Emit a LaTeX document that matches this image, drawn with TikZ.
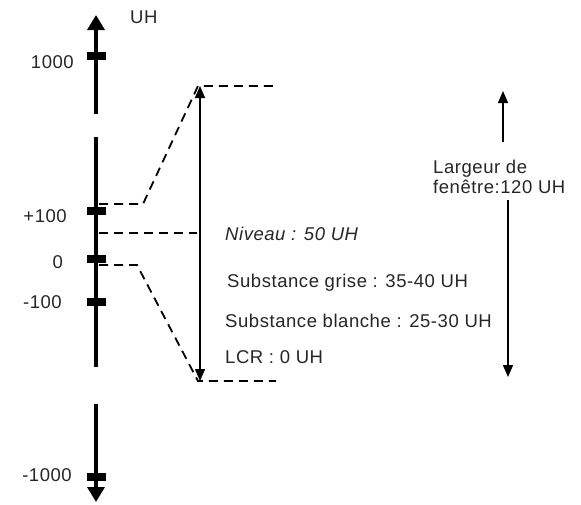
\documentclass[tikz,border=0pt]{standalone}
\usepackage{fontspec}
\setmainfont[LetterSpace=3]{Liberation Sans}
\usetikzlibrary{arrows.meta}
\tikzset{
  axisline/.style={line width=3.6pt},
  tickmark/.style={fill=black,minimum width=19pt,minimum height=8pt,inner sep=0pt,draw=none},
  dashline/.style={line width=1.8pt,dash pattern=on 9pt off 6pt},
  thinarrow/.style={line width=1.5pt},
  lbl/.style={inner sep=0pt,text=black!85,font=\fontsize{18.5}{20}\selectfont},
}
\begin{document}
\begin{tikzpicture}[x=1pt,y=-1pt]
\useasboundingbox (0,0) rectangle (581,504);
% axis coordinates
\coordinate (topTip) at (96,15);
\coordinate (topEnd) at (96,114);
\coordinate (midStart) at (96,137);
\coordinate (midEnd) at (96,367);
\coordinate (botStart) at (96,404);
\coordinate (botTip) at (96,502);
\draw[axisline,-{Triangle[width=17pt,length=15pt]}] (topEnd) -- (topTip);
\draw[axisline] (midStart) -- (midEnd);
\draw[axisline,-{Triangle[width=17pt,length=15pt]}] (botStart) -- (botTip);
% ticks
\node[tickmark] (t1000) at (96,56) {};
\node[tickmark] (t100) at (96,211) {};
\node[tickmark] (t0) at (96,259) {};
\node[tickmark] (tm100) at (96,302) {};
\node[tickmark] (tm1000) at (96,477) {};
% axis labels
\node[lbl,anchor=base west] (uh) at (130,23) {UH};
\node[lbl,anchor=base east] (l1000) at (74,68) {1000};
\node[lbl,anchor=base east] (l100) at (67,222) {+100};
\node[lbl,anchor=base east] (l0) at (63,268) {0};
\node[lbl,anchor=base east] (lm100) at (62,308) {-100};
\node[lbl,anchor=base east] (lm1000) at (72,481) {-1000};
% window arrow
\coordinate (wTop) at (200,86);
\coordinate (wBot) at (200,381);
\draw[thinarrow,{Triangle[width=10pt,length=12pt]}-{Triangle[width=10pt,length=12pt]}] (wBot) -- (wTop);
% dashed lines
\coordinate (u0) at (99,204);
\coordinate (u1) at (143,204);
\coordinate (u2) at (198,86);
\coordinate (u3) at (277,86);
\draw[dashline] (u0) -- (u1) -- (u2) -- (u3);
\coordinate (n0) at (99,233);
\coordinate (n1) at (197,233);
\draw[dashline] (n0) -- (n1);
\coordinate (d0) at (99,265);
\coordinate (d1) at (137,265);
\coordinate (d2) at (198,381);
\coordinate (d3) at (276,381);
\draw[dashline] (d0) -- (d1) -- (d2) -- (d3);
% texts
\node[lbl,anchor=base west] (niveau) at (225,240) {\itshape Niveau : 50 UH};
\node[lbl,anchor=base west] (grise) at (227,287) {Substance grise : 35-40 UH};
\node[lbl,anchor=base west] (blanche) at (225,327) {Substance blanche : 25-30 UH};
\node[lbl,anchor=base west] (lcr) at (225,363) {LCR : 0 UH};
\node[lbl,anchor=base west,align=left] (largeur) at (433,193) {Largeur de\\fenêtre:120 UH};
% right arrows
\coordinate (rUpTail) at (503,142);
\coordinate (rUpTip) at (503,91);
\draw[thinarrow,-{Triangle[width=10pt,length=12pt]}] (rUpTail) -- (rUpTip);
\coordinate (rDnTail) at (508,200);
\coordinate (rDnTip) at (508,377);
\draw[thinarrow,-{Triangle[width=10pt,length=12pt]}] (rDnTail) -- (rDnTip);
\end{tikzpicture}
\end{document}
